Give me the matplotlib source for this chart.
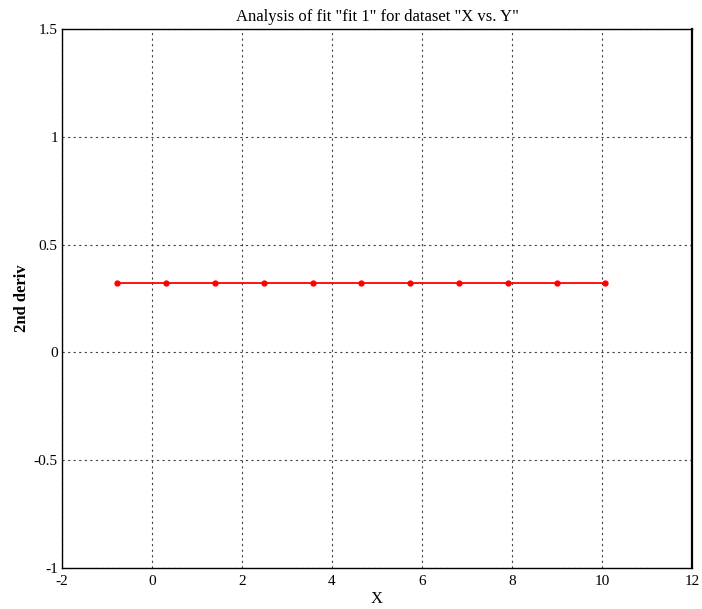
import matplotlib.pyplot as plt

# ======= DATA =======
x_vals = [-0.77, 0.31, 1.39, 2.49, 3.57, 4.65, 5.73, 6.82, 7.91, 8.99, 10.07]
deriv2 = [0.32, 0.32, 0.32, 0.32, 0.32, 0.32, 0.32, 0.32, 0.32, 0.32, 0.32]

x_ticks = [-2, 0, 2, 4, 6, 8, 10, 12]
y_ticks = [-1, -0.5, 0, 0.5, 1, 1.5]
y_ticklabels = ["-1", "-0.5", "0", "0.5", "1", "1.5"]

plt.rcParams['font.family'] = ['Liberation Serif', 'DejaVu Serif']
plt.rcParams['axes.unicode_minus'] = False

fig = plt.figure(figsize=(7.02, 6.09), dpi=100)
ax = fig.add_axes([62 / 702, 1 - 568 / 609, 630 / 702, 539 / 609])

ax.plot(x_vals, deriv2, color='red', linewidth=1.3, marker='o', markersize=3.5)

ax.set_xlim(-2, 12)
ax.set_ylim(-1, 1.5)
ax.set_xticks(x_ticks)
ax.set_yticks(y_ticks)
ax.set_yticklabels(y_ticklabels)
ax.tick_params(axis='x', length=0, labelsize=11, pad=5)
ax.tick_params(axis='y', length=0, labelsize=11, pad=3)
ax.grid(True, color='#444444', linestyle=(0, (2, 3)), linewidth=0.8)

for side in ['left', 'bottom', 'top']:
    ax.spines[side].set_linewidth(1.0)
ax.spines['right'].set_linewidth(1.6)

ax.set_title('Analysis of fit "fit 1" for dataset "X vs. Y"', fontsize=12, pad=6)
ax.set_xlabel('X', fontsize=12, labelpad=2)
ax.set_ylabel('2nd deriv', fontsize=12, fontweight='bold', labelpad=3)

plt.savefig("out.png", dpi=100)
plt.close()
